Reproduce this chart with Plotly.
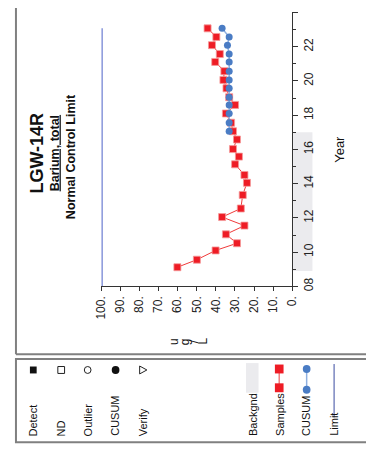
import plotly.graph_objects as go

W, H = 374, 455

# ---------------- data ----------------
sample_years = [9.12, 9.56, 10.10, 10.52, 11.04, 11.55, 12.05, 12.55, 13.34, 14.05,
                14.51, 15.13, 15.58, 16.02, 16.58, 17.06, 17.56, 18.10, 18.60, 19.05,
                19.57, 20.06, 20.57, 21.11, 21.57, 22.09, 22.57, 23.07]
sample_values = [60.1, 49.9, 40.1, 28.9, 34.7, 25.0, 36.7, 26.9, 25.9, 23.7,
                 25.0, 29.9, 27.9, 31.0, 28.9, 31.0, 32.0, 34.7, 29.9, 33.0,
                 34.4, 36.0, 35.5, 40.3, 37.9, 42.0, 39.7, 44.3]
cusum_years = [17.06, 17.56, 18.10, 18.60, 19.05, 19.57, 20.06, 20.57, 21.11, 21.57,
               22.09, 22.57, 23.07]
cusum_values = [33.0, 33.0, 33.0, 33.0, 33.0, 33.0, 33.0, 33.0, 33.0, 33.0,
                33.9, 33.0, 36.7]
limit_years = [8.0, 23.07]
limit_values = [99.5, 99.5]
backgnd_years = [8.9, 17.0]

value_ticks = [100, 90, 80, 70, 60, 50, 40, 30, 20, 10, 0]
value_tick_labels = ["100.", "90.", "80.", "70.", "60.", "50.", "40.", "30.", "20.", "10.", "0."]
year_ticks = [8, 10, 12, 14, 16, 18, 20, 22, 24]
year_tick_labels = ["08", "10", "12", "14", "16", "18", "20", "22", "24"]

legend_left = ["Detect", "ND", "Outlier", "CUSUM", "Verify"]
legend_right = ["Backgnd", "Samples", "CUSUM", "Limit"]

# ---------------- helpers (page pixel -> paper; page has an 8px body offset) ----------------
OFF = 8

def px(x):
    return (x - OFF) / W

def py(y):
    return 1 - (y - OFF) / H

FONT = "Liberation Sans, Arial, sans-serif"
RED = "#ee1c25"
BLUE = "#4a7cc4"
FRAME = "#808080"

fig = go.Figure()

fig.add_trace(go.Scatter(
    x=limit_values, y=limit_years, mode="lines",
    line=dict(color="#8090d8", width=1.5), hoverinfo="skip"))

fig.add_trace(go.Scatter(
    x=sample_values, y=sample_years, mode="lines+markers",
    line=dict(color="#f03a3a", width=1),
    marker=dict(symbol="square", size=7, color=RED, line=dict(width=0.8, color="#f59a9a")),
    hoverinfo="skip"))

fig.add_trace(go.Scatter(
    x=cusum_values, y=cusum_years, mode="lines+markers",
    line=dict(color="#8fb0e0", width=1.5),
    marker=dict(symbol="circle", size=7, color=BLUE),
    hoverinfo="skip"))

shapes = []
# background strip beside the year axis
shapes.append(dict(type="rect", xref="paper", yref="y", x0=px(297), x1=px(317),
                   y0=backgnd_years[0], y1=backgnd_years[1],
                   fillcolor="#ebebee", line=dict(width=0), layer="below"))

# frames
shapes.append(dict(type="line", xref="paper", yref="paper", x0=px(9), x1=px(9), y0=py(-5), y1=py(358),
                   line=dict(color=FRAME, width=2)))
shapes.append(dict(type="line", xref="paper", yref="paper", x0=px(9), x1=px(390), y0=py(358), y1=py(358),
                   line=dict(color=FRAME, width=2)))
shapes.append(dict(type="rect", xref="paper", yref="paper", x0=px(9), x1=px(395), y0=py(447), y1=py(363),
                   line=dict(color=FRAME, width=2)))

# legend glyphs (left group)
lx = [27, 56, 83.5, 112.5, 141]
gy = 374
s = 3.5
shapes.append(dict(type="rect", xref="paper", yref="paper", x0=px(lx[0]-s), x1=px(lx[0]+s),
                   y0=py(gy+s), y1=py(gy-s), fillcolor="#111111", line=dict(width=0)))
shapes.append(dict(type="rect", xref="paper", yref="paper", x0=px(lx[1]-s), x1=px(lx[1]+s),
                   y0=py(gy+s), y1=py(gy-s), line=dict(color="#222222", width=1)))
shapes.append(dict(type="circle", xref="paper", yref="paper", x0=px(lx[2]-s), x1=px(lx[2]+s),
                   y0=py(gy+s), y1=py(gy-s), line=dict(color="#222222", width=1)))
shapes.append(dict(type="circle", xref="paper", yref="paper", x0=px(lx[3]-4), x1=px(lx[3]+4),
                   y0=py(gy+4), y1=py(gy-4), fillcolor="#111111", line=dict(width=0)))
tri = "M {} {} L {} {} L {} {} Z".format(px(lx[4]-3.5), py(gy-4), px(lx[4]-3.5), py(gy+4), px(lx[4]+4), py(gy))
shapes.append(dict(type="path", xref="paper", yref="paper", path=tri, line=dict(color="#222222", width=1)))

# legend glyphs (right group)
rx = [254.5, 282.5, 311, 339.5]
shapes.append(dict(type="rect", xref="paper", yref="paper", x0=px(248), x1=px(261),
                   y0=py(397), y1=py(367), fillcolor="#ebebee", line=dict(width=0)))
shapes.append(dict(type="line", xref="paper", yref="paper", x0=px(rx[1]), x1=px(rx[1]),
                   y0=py(373), y1=py(392), line=dict(color="#f08080", width=1.5)))
for yy in (373, 392):
    shapes.append(dict(type="rect", xref="paper", yref="paper", x0=px(rx[1]-4.5), x1=px(rx[1]+4.5),
                       y0=py(yy+4.5), y1=py(yy-4.5), fillcolor=RED, line=dict(width=0)))
shapes.append(dict(type="line", xref="paper", yref="paper", x0=px(rx[2]), x1=px(rx[2]),
                   y0=py(373), y1=py(394), line=dict(color="#8fb0e0", width=1.5)))
for yy in (373, 394):
    shapes.append(dict(type="circle", xref="paper", yref="paper", x0=px(rx[2]-4), x1=px(rx[2]+4),
                       y0=py(yy+4), y1=py(yy-4), fillcolor=BLUE, line=dict(width=0)))
shapes.append(dict(type="line", xref="paper", yref="paper", x0=px(rx[3]), x1=px(rx[3]),
                   y0=py(368), y1=py(422), line=dict(color="#3a4aa0", width=1)))

annotations = []
def rot_text(text, x, y, size, bold=False, xanchor="center", yanchor="middle", color="#111111"):
    t = "<b>" + text + "</b>" if bold else text
    annotations.append(dict(text=t, x=px(x), y=py(y), xref="paper", yref="paper",
                            showarrow=False, textangle=-90, xanchor=xanchor, yanchor=yanchor,
                            font=dict(family=FONT, size=size, color=color)))

for name, x in zip(legend_left, lx):
    rot_text(name, x, 443, 11, yanchor="bottom")
for name, x in zip(legend_right, rx):
    rot_text(name, x, 443, 11, yanchor="bottom")

# titles
rot_text("LGW-14R", 31, 155, 18, bold=True)
rot_text("<u>Barium, total</u>", 49.5, 155, 12.5, bold=True)
rot_text("Normal Control Limit", 67, 158, 12.5, bold=True)

# axis titles
rot_text("Year", 345, 151, 13)
for ch, x in zip(["u", "g", "/", "L"], [174, 184.5, 194, 203.5]):
    rot_text(ch, x, 345, 12)

fig.update_layout(
    width=W, height=H,
    margin=dict(l=0, r=0, t=0, b=0),
    paper_bgcolor="white", plot_bgcolor="white",
    showlegend=False,
    shapes=shapes, annotations=annotations,
    xaxis=dict(domain=[px(97.5), px(296)], range=[100, 0], autorange=False,
               tickvals=value_ticks, ticktext=value_tick_labels, tickangle=-90,
               ticks="outside", ticklen=4, tickcolor="#333333",
               showline=True, linecolor="#333333", linewidth=1,
               showgrid=False, zeroline=False, anchor="y",
               tickfont=dict(family=FONT, size=12, color="#222222")),
    yaxis=dict(domain=[py(289.5), py(12.5)], range=[8, 24], autorange=False,
               side="right", tickvals=year_ticks, ticktext=year_tick_labels, tickangle=-90,
               ticks="outside", ticklen=5, tickcolor="#333333",
               minor=dict(dtick=1, tick0=0, ticks="outside", ticklen=3, tickcolor="#333333"),
               showline=True, linecolor="#333333", linewidth=1,
               showgrid=False, zeroline=False, anchor="x",
               tickfont=dict(family=FONT, size=12, color="#222222")),
)

fig.write_html("out.html")
